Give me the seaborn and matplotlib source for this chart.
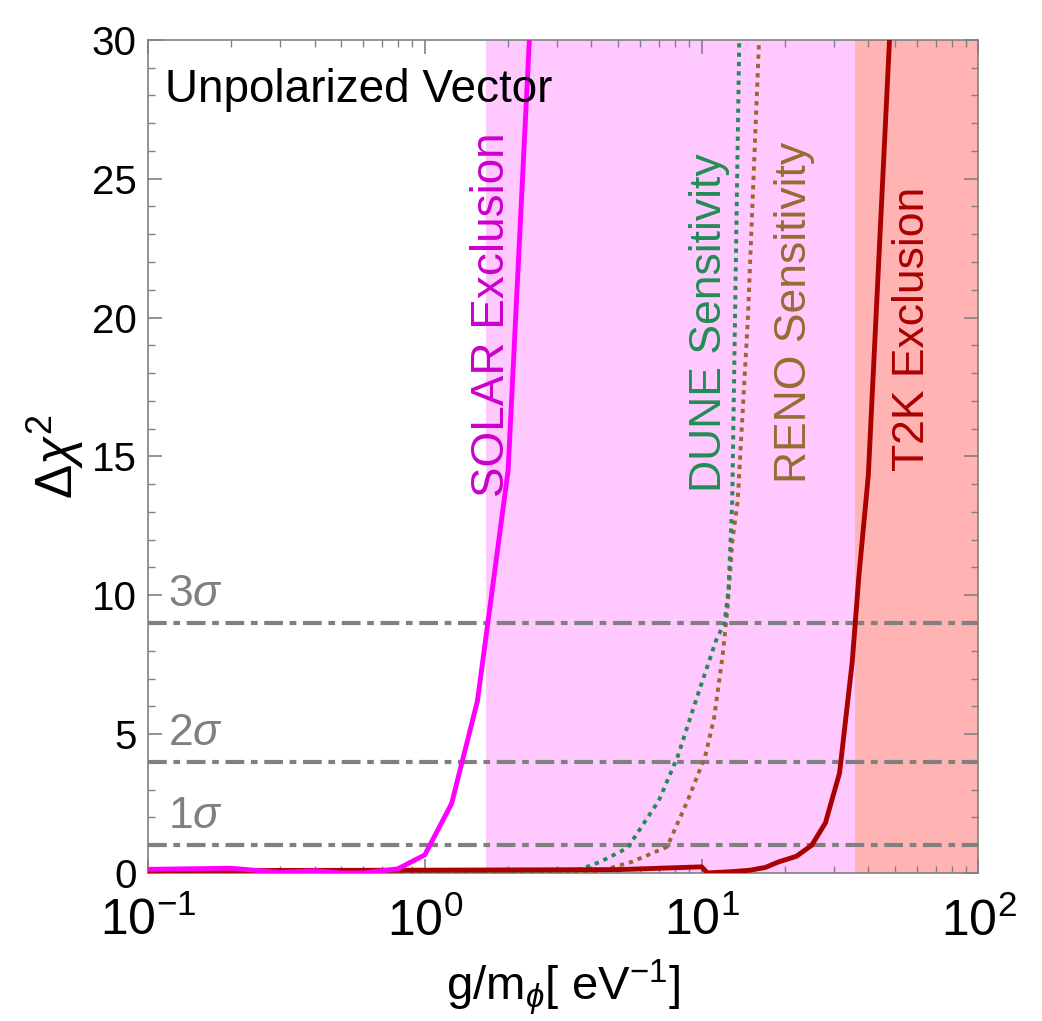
import matplotlib
matplotlib.use("Agg")
import matplotlib.pyplot as plt
import matplotlib.ticker as mticker
import seaborn as sns
import pandas as pd

# ---------------- data ----------------
solar_x = [0.1, 0.2, 0.3, 0.4, 0.5, 0.6, 0.8, 1.0, 1.25, 1.55, 2.0, 2.4]
solar_y = [0.13, 0.17, 0.02, 0.08, 0.0, 0.0, 0.15, 0.65, 2.5, 6.2, 14.5, 30.5]

t2k_x = [0.1, 1.0, 5.0, 10.0, 10.5, 13.0, 15.0, 17.0, 19.0, 22.0, 25.0, 28.0, 31.5, 35.0, 37.0, 40.0, 48.0]
t2k_y = [0.08, 0.1, 0.12, 0.22, 0.0, 0.05, 0.1, 0.2, 0.4, 0.6, 1.0, 1.8, 3.6, 7.6, 10.7, 14.3, 30.5]

dune_x = [0.1, 2.5, 3.2, 3.7, 4.3, 5.4, 7.0, 8.2, 9.6, 11.3, 12.1, 12.5, 12.9, 13.7]
dune_y = [0.0, 0.0, 0.05, 0.15, 0.4, 0.9, 2.6, 4.2, 6.3, 8.4, 9.0, 10.2, 13.4, 30.5]

reno_x = [1.0, 3.0, 3.8, 4.3, 5.6, 7.5, 8.9, 10.3, 11.1, 11.9, 12.4, 12.9, 13.5, 14.7, 16.2]
reno_y = [0.0, 0.0, 0.03, 0.07, 0.4, 0.94, 2.6, 4.2, 5.6, 7.8, 9.5, 11.9, 13.4, 20.0, 30.5]

sigma_levels = [1, 4, 9]
sigma_labels = [r"1$\sigma$", r"2$\sigma$", r"3$\sigma$"]

solar_excl_min = 1.67
t2k_excl_min = 35.7
x_max = 100.0

y_ticks = [0, 5, 10, 15, 20, 25, 30]
x_ticks = [0.1, 1, 10, 100]
x_tick_labels = [r"$10^{-1}$", r"$10^{0}$", r"$10^{1}$", r"$10^{2}$"]

# ---------------- style ----------------
sns.set_style("ticks")
plt.rcParams["font.family"] = ["Liberation Sans", "DejaVu Sans"]
plt.rcParams["text.color"] = "black"
plt.rcParams["axes.labelcolor"] = "black"
plt.rcParams["xtick.labelcolor"] = "black"
plt.rcParams["ytick.labelcolor"] = "black"
plt.rcParams["mathtext.fontset"] = "custom"
plt.rcParams["mathtext.rm"] = "Liberation Sans"
plt.rcParams["mathtext.it"] = "Liberation Sans:italic"
plt.rcParams["mathtext.bf"] = "Liberation Sans:bold"
plt.rcParams["mathtext.sf"] = "Liberation Sans"

fig = plt.figure(figsize=(10.42, 10.21), dpi=100)
ax = fig.add_axes([0.142, 0.145, 0.797, 0.816])

ax.axvspan(solar_excl_min, x_max, color="#FFC8FF", zorder=0, lw=0)
ax.axvspan(t2k_excl_min, x_max, color="#FFB3B3", zorder=0, lw=0)

for lvl in sigma_levels:
    ax.axhline(lvl, color="#808080", lw=3, ls=(0, (4.5, 1.6, 1.6, 1.6)), zorder=2)

df_reno = pd.DataFrame({"x": reno_x, "y": reno_y})
df_dune = pd.DataFrame({"x": dune_x, "y": dune_y})
df_t2k = pd.DataFrame({"x": t2k_x, "y": t2k_y})
df_solar = pd.DataFrame({"x": solar_x, "y": solar_y})

sns.lineplot(data=df_reno, x="x", y="y", ax=ax, color="#A0642D", lw=2.8,
             ls=(0, (1.1, 1.3)), sort=False, zorder=3)
sns.lineplot(data=df_dune, x="x", y="y", ax=ax, color="#238C55", lw=2.8,
             ls=(0, (1.1, 1.3)), sort=False, zorder=3)
sns.lineplot(data=df_t2k, x="x", y="y", ax=ax, color="#AA0000", lw=3.5,
             sort=False, zorder=4)
sns.lineplot(data=df_solar, x="x", y="y", ax=ax, color="#FF00FF", lw=3.5,
             sort=False, zorder=4)

ax.set_xscale("log")
ax.set_xlim(0.1, x_max)
ax.set_ylim(0, 30)

ax.set_xticks(x_ticks)
ax.set_xticklabels(x_tick_labels)
ax.xaxis.set_minor_locator(mticker.LogLocator(base=10, subs=range(2, 10), numticks=20))
ax.xaxis.set_minor_formatter(mticker.NullFormatter())
ax.set_yticks(y_ticks)
ax.yaxis.set_minor_locator(mticker.MultipleLocator(1))

ax.tick_params(axis="both", which="both", direction="in", top=True, right=True,
               color="#808080")
ax.tick_params(axis="both", which="major", length=10, width=1.2)
ax.tick_params(axis="both", which="minor", length=5, width=1.0)
ax.tick_params(axis="x", which="major", labelsize=36, pad=18)
ax.tick_params(axis="y", which="major", labelsize=29, pad=8)
for s in ax.spines.values():
    s.set_color("#808080")
    s.set_linewidth(1.2)

ax.set_xlabel(r"g/m$_{\phi}$[ eV$^{-1}$]", fontsize=34, labelpad=8)
ax.set_ylabel(r"$\Delta\chi^{2}$", fontsize=37, labelpad=4)

ax.text(0.021, 0.966, "Unpolarized Vector", transform=ax.transAxes, fontsize=33,
        ha="left", va="top", color="black", zorder=6)

for lvl, lab in zip(sigma_levels, sigma_labels):
    ax.text(0.118, lvl + 0.3, lab, fontsize=32, color="#808080", ha="left",
            va="bottom", zorder=6)

ax.text(1.75, 20.1, "SOLAR Exclusion", rotation=90, fontsize=33, color="#CC00CC",
        ha="center", va="center", zorder=6)
ax.text(10.7, 19.8, "DUNE Sensitivity", rotation=90, fontsize=32, color="#238C55",
        ha="center", va="center", zorder=6)
ax.text(21.6, 20.2, "RENO Sensitivity", rotation=90, fontsize=32, color="#9A6A33",
        ha="center", va="center", zorder=6)
ax.text(58.0, 19.6, "T2K Exclusion", rotation=90, fontsize=32, color="#AA0000",
        ha="center", va="center", zorder=6)

fig.savefig("out.png", dpi=100)
